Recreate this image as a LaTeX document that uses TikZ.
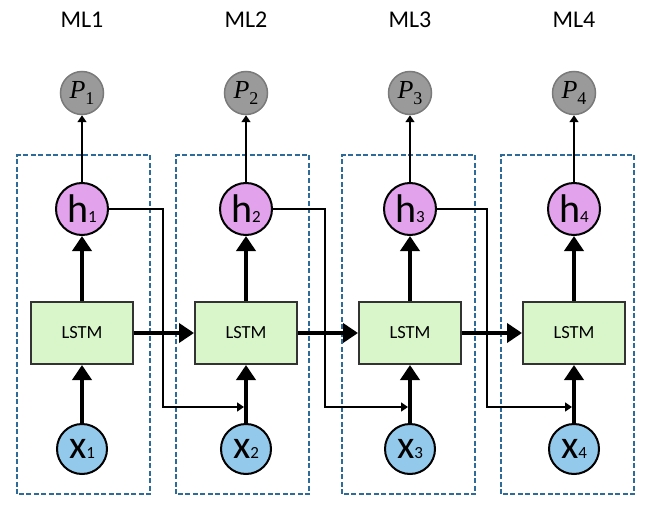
\documentclass[tikz,border=0pt]{standalone}
\usepackage{fontspec}
\setmainfont{Carlito}
\newfontfamily\pfont{Liberation Serif}
\usetikzlibrary{positioning, arrows.meta}
\usepackage{xcolor}
\definecolor{cellgreen}{HTML}{D8F6CA}
\definecolor{hviolet}{HTML}{E2A3EC}
\definecolor{xblue}{HTML}{93C9EB}
\definecolor{pgray}{HTML}{9A9A9A}
\definecolor{pborder}{HTML}{7A7A7A}
\definecolor{boxblue}{HTML}{2F6B99}
\newcommand{\unitsym}[2]{{\fontsize{40}{40}\selectfont #1}{\fontsize{17}{17}\selectfont #2}}
\newcommand{\outsym}[1]{{\pfont\fontsize{26}{26}\selectfont\itshape P}\raisebox{-6pt}{\pfont\fontsize{18}{18}\selectfont #1}}

\begin{document}
\begin{tikzpicture}[x=1pt, y=1pt, node distance=164pt]
\useasboundingbox (0,0) rectangle (650,507);

% Define styles
\tikzstyle{cell} = [rectangle, draw=black!80, line width=2pt, fill=cellgreen, minimum width=102pt, minimum height=62pt, font=\fontsize{18.5}{20}\selectfont]
\tikzstyle{hidden} = [circle, draw, line width=2pt, fill=hviolet, minimum size=52pt, inner sep=0pt]
\tikzstyle{inputnode} = [circle, draw, line width=2pt, fill=xblue, minimum size=50pt, inner sep=0pt]
\tikzstyle{outputnode} = [circle, draw=pborder, line width=1.5pt, fill=pgray, minimum size=43pt, inner sep=0pt]
\tikzstyle{mlbox} = [draw=boxblue, line width=1.3pt, dash pattern=on 5pt off 2.5pt]
\tikzstyle{title} = [font=\fontsize{24}{24}\selectfont]
\tikzstyle{arrow} = [line width=4pt, -{Triangle[length=15pt, width=19pt]}]
\tikzstyle{thinarrow} = [line width=1.6pt, -{Triangle[length=7pt, width=9pt]}]

% Model frames
\draw [mlbox] (17,13) rectangle (150,352);
\draw [mlbox] (176,13) rectangle (309,352);
\draw [mlbox] (342,13) rectangle (475,352);
\draw [mlbox] (501,13) rectangle (634,352);

% LSTM cells
\node [cell] (lstm1) at (82,174) {LSTM};
\node [cell, right of=lstm1] (lstm2) {LSTM};
\node [cell, right of=lstm2] (lstm3) {LSTM};
\node [cell, right of=lstm3] (lstm4) {LSTM};

% Hidden states
\node [hidden, node distance=124pt, above of=lstm1] (h1) {\unitsym{h}{1}};
\node [hidden, node distance=124pt, above of=lstm2] (h2) {\unitsym{h}{2}};
\node [hidden, node distance=124pt, above of=lstm3] (h3) {\unitsym{h}{3}};
\node [hidden, node distance=124pt, above of=lstm4] (h4) {\unitsym{h}{4}};

% Inputs
\node [inputnode, node distance=116pt, below of=lstm1] (x1) {\unitsym{x}{1}};
\node [inputnode, node distance=116pt, below of=lstm2] (x2) {\unitsym{x}{2}};
\node [inputnode, node distance=116pt, below of=lstm3] (x3) {\unitsym{x}{3}};
\node [inputnode, node distance=116pt, below of=lstm4] (x4) {\unitsym{x}{4}};

% Outputs
\node [outputnode, node distance=116pt, above of=h1] (p1) {\outsym{1}};
\node [outputnode, node distance=116pt, above of=h2] (p2) {\outsym{2}};
\node [outputnode, node distance=116pt, above of=h3] (p3) {\outsym{3}};
\node [outputnode, node distance=116pt, above of=h4] (p4) {\outsym{4}};

% Titles
\node [title, node distance=73pt, above of=p1] (ml1) {ML1};
\node [title, node distance=73pt, above of=p2] (ml2) {ML2};
\node [title, node distance=73pt, above of=p3] (ml3) {ML3};
\node [title, node distance=73pt, above of=p4] (ml4) {ML4};

% Arrows
\draw [arrow] (x1) -- (lstm1);
\draw [arrow] (x2) -- (lstm2);
\draw [arrow] (x3) -- (lstm3);
\draw [arrow] (x4) -- (lstm4);
\draw [arrow] (lstm1) -- (h1);
\draw [arrow] (lstm2) -- (h2);
\draw [arrow] (lstm3) -- (h3);
\draw [arrow] (lstm4) -- (h4);
\draw [arrow] (lstm1) -- (lstm2);
\draw [arrow] (lstm2) -- (lstm3);
\draw [arrow] (lstm3) -- (lstm4);
\draw [thinarrow] (h1) -- (p1);
\draw [thinarrow] (h2) -- (p2);
\draw [thinarrow] (h3) -- (p3);
\draw [thinarrow] (h4) -- (p4);

% Recurrent links
\coordinate [node distance=74pt, below of=lstm2, xshift=-2pt] (join2);
\coordinate [node distance=74pt, below of=lstm3, xshift=-2pt] (join3);
\coordinate [node distance=74pt, below of=lstm4, xshift=-2pt] (join4);
\draw [thinarrow] (h1.east) -- ++(54,0) |- (join2);
\draw [thinarrow] (h2.east) -- ++(52,0) |- (join3);
\draw [thinarrow] (h3.east) -- ++(50,0) |- (join4);

\end{tikzpicture}
\end{document}
